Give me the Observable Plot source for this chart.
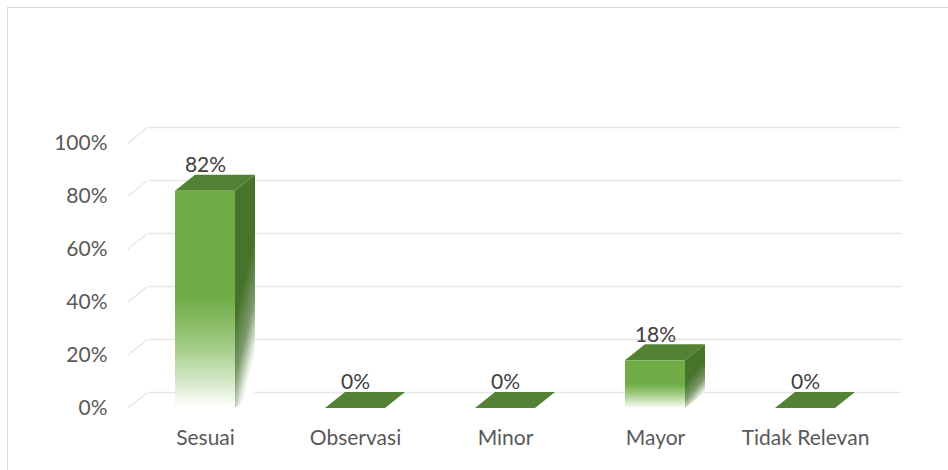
<!DOCTYPE html>
<html><head><meta charset="utf-8">
<script src="https://cdn.jsdelivr.net/npm/d3@7"></script>
<script src="https://cdn.jsdelivr.net/npm/@observablehq/plot@0.6"></script>
<style>
html,body{margin:0;padding:0;background:#fff;}
#wrap{position:relative;width:948px;height:470px;overflow:hidden;}
#frame{position:absolute;left:7px;top:7px;width:980px;height:500px;border-left:1.5px solid #d9d9d9;border-top:1.5px solid #d9d9d9;}
#chart{position:absolute;left:0;top:0;}
</style></head><body>
<div id="wrap"><div id="frame"></div><div id="chart"></div></div>
<script>
const categories = ["Sesuai", "Observasi", "Minor", "Mayor", "Tidak Relevan"];
const values = [0.82, 0, 0, 0.18, 0];
const valueLabels = ["82%", "0%", "0%", "18%", "0%"];
const yTicks = [0, 0.2, 0.4, 0.6, 0.8, 1];

const data = categories.map((c, i) => ({category: c, value: values[i], label: valueLabels[i]}));
const DX = 20, DY = -16;
const FS = 21;

function slants(index, scales, values, dims) {
  const y = scales.y;
  const g = d3.create("svg:g").attr("stroke", "#e6e6e6").attr("stroke-width", 1.4).attr("fill", "none");
  const x0 = dims.marginLeft - 1;
  for (const t of yTicks) {
    g.append("line").attr("x1", x0).attr("y1", y(t)).attr("x2", x0 + DX).attr("y2", y(t) + DY);
  }
  return g.node();
}

function faces(index, scales) {
  const x = scales.x, y = scales.y, bw = x.bandwidth();
  const g = d3.create("svg:g");
  const defs = g.append("defs");
  const fg = defs.append("linearGradient").attr("id", "frontGrad").attr("x1", 0).attr("y1", 0).attr("x2", 0).attr("y2", 1);
  [[0, "#70AD47"], [0.5, "#70AD47"], [0.72, "#a3cd87"], [0.9, "#dcedd1"], [1, "#ffffff"]]
    .forEach(([o, c]) => fg.append("stop").attr("offset", o).attr("stop-color", c));
  const sg = defs.append("linearGradient").attr("id", "sideGrad").attr("x1", 0).attr("y1", 0).attr("x2", 0.35).attr("y2", 1);
  [[0, "#46742B"], [0.55, "#46742B"], [0.78, "#7d9a6c"], [0.95, "#e8eee4"], [1, "#ffffff"]]
    .forEach(([o, c]) => sg.append("stop").attr("offset", o).attr("stop-color", c));
  const y0 = y(0);
  for (const d of data) {
    const x0 = x(d.category), x1 = x0 + bw, yt = y(d.value);
    if (d.value > 0) {
      g.append("path")
        .attr("d", `M${x1},${yt}L${x1 + DX},${yt + DY}L${x1 + DX},${y0 + DY}L${x1},${y0}Z`)
        .attr("fill", "url(#sideGrad)");
    }
    g.append("path")
      .attr("d", `M${x0},${yt}L${x0 + DX},${yt + DY}L${x1 + DX},${yt + DY}L${x1},${yt}Z`)
      .attr("fill", "#548235");
  }
  return g.node();
}

const chart = Plot.plot({
  width: 948,
  height: 470,
  marginLeft: 129,
  marginRight: 67,
  marginTop: 143,
  marginBottom: 62,
  x: {domain: categories, paddingInner: 0.6, paddingOuter: 0.3, axis: null},
  y: {domain: [0, 1], axis: null},
  style: {fontFamily: "Lato, 'Open Sans', sans-serif", fontSize: FS + "px", color: "#595959", background: "transparent"},
  marks: [
    Plot.ruleY(yTicks, {dx: DX, dy: DY, stroke: "#e6e6e6", strokeWidth: 1.4}),
    slants,
    faces,
    Plot.barY(data, {x: "category", y: "value", fill: "url(#frontGrad)"}),
    Plot.axisY(yTicks, {tickSize: 0, tickPadding: 22, tickFormat: d3.format(".0%"), fill: "#595959", fontSize: FS, label: null}),
    Plot.axisX({tickSize: 0, tickPadding: 22, fill: "#595959", fontSize: FS, label: null}),
    Plot.text(data, {x: "category", y: "value", text: "label", dy: -26, fill: "#404040", fontSize: FS})
  ]
});
document.getElementById("chart").appendChild(chart);
</script>
</body></html>
